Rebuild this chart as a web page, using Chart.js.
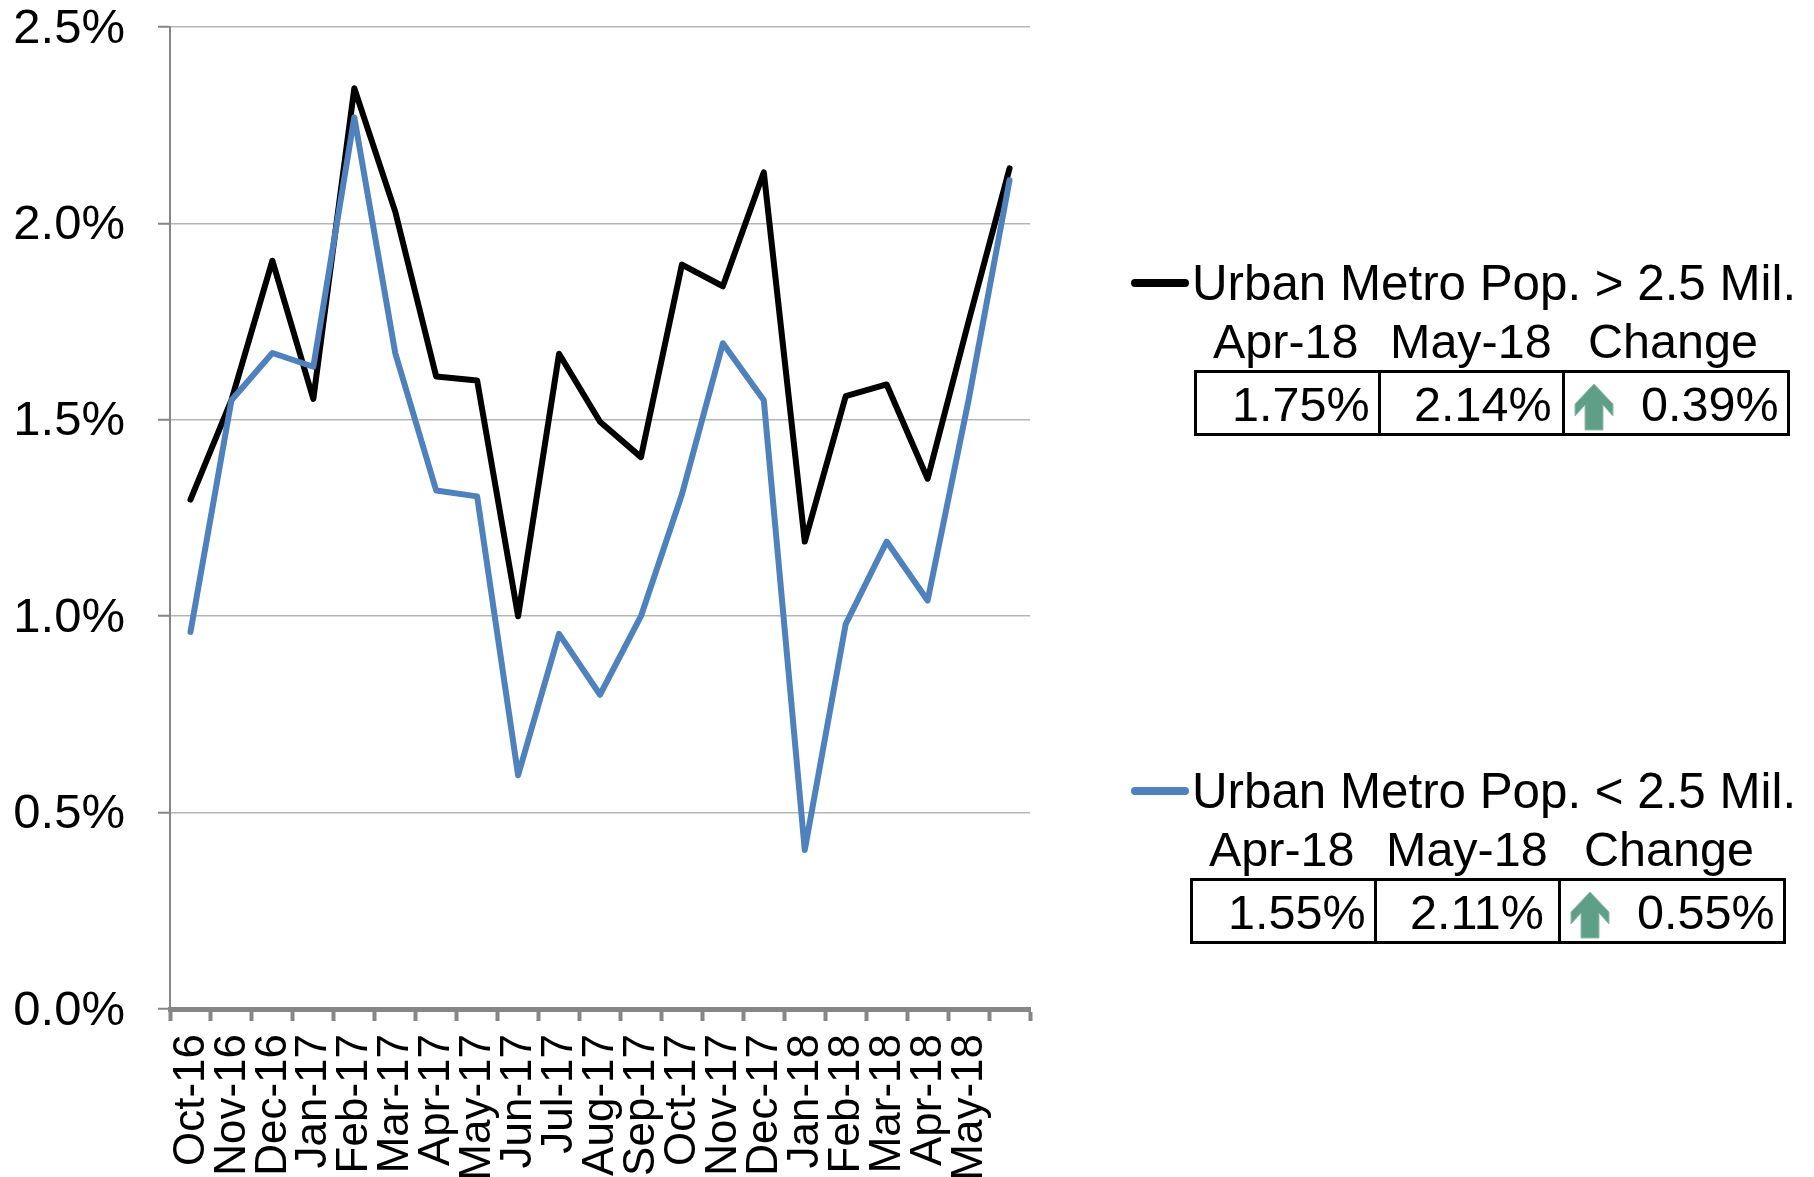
<!DOCTYPE html>
<html>
<head>
<meta charset="utf-8">
<title>Urban Metro Pop.</title>
<script src="https://cdn.jsdelivr.net/npm/chart.js@4/dist/chart.umd.js"></script>
<style>
    html, body { margin: 0; padding: 0; background: #fff; overflow: hidden; }
    #wrap { position: relative; width: 1814px; height: 1177px; font-family: "Liberation Sans", Arial, sans-serif; color: #000; }
    canvas { position: absolute; left: 0; top: 0; }
    .txt { position: absolute; font-size: 48.5px; line-height: 50px; height: 50px; white-space: nowrap; }
    .title { font-size: 49.3px; }
    .swatch { position: absolute; width: 58px; height: 8px; border-radius: 4px; }
    .box { position: absolute; width: 596px; height: 66px; box-sizing: border-box; border: 3px solid #000; }
    .sep { position: absolute; top: 0; width: 3px; height: 60px; background: #000; }
    .arrow { position: absolute; width: 40px; height: 48px; }
</style>
</head>
<body>
<div id="wrap">
    <canvas id="chart" width="1814" height="1177"></canvas>
</div>
<script>
// values
const categories = ['Oct-16', 'Nov-16', 'Dec-16', 'Jan-17', 'Feb-17', 'Mar-17', 'Apr-17', 'May-17', 'Jun-17', 'Jul-17',
    'Aug-17', 'Sep-17', 'Oct-17', 'Nov-17', 'Dec-17', 'Jan-18', 'Feb-18', 'Mar-18', 'Apr-18', 'May-18', ''];
const largeMetro = [1.297, 1.55, 1.905, 1.553, 2.344, 2.03, 1.61, 1.60, 1.0, 1.668,
    1.495, 1.405, 1.895, 1.84, 2.13, 1.19, 1.56, 1.59, 1.35, 1.75, 2.14];
const smallMetro = [0.96, 1.55, 1.67, 1.635, 2.27, 1.67, 1.32, 1.305, 0.595, 0.955,
    0.80, 1.00, 1.31, 1.695, 1.55, 0.405, 0.98, 1.19, 1.04, 1.55, 2.11];
const largeLabel = 'Urban Metro Pop. > 2.5 Mil.';
const smallLabel = 'Urban Metro Pop. < 2.5 Mil.';
const tableHeads = ['Apr-18', 'May-18', 'Change'];
const largeRow = ['1.75%', '2.14%', '0.39%'];
const smallRow = ['1.55%', '2.11%', '0.55%'];

const BLACK = '#000000';
const BLUE = '#4f81bd';
const FONT = '"Liberation Sans", Arial, sans-serif';

new Chart(document.getElementById('chart').getContext('2d'), {
    type: 'line',
    data: {
        labels: categories,
        datasets: [
            { label: largeLabel, data: largeMetro, borderColor: BLACK, borderWidth: 6, borderJoinStyle: 'round', borderCapStyle: 'round', pointRadius: 0, tension: 0, order: 2 },
            { label: smallLabel, data: smallMetro, borderColor: BLUE, borderWidth: 6, borderJoinStyle: 'round', borderCapStyle: 'round', pointRadius: 0, tension: 0, order: 1 }
        ]
    },
    options: {
        responsive: false,
        animation: false,
        layout: { padding: { left: 0, right: 784, top: 27, bottom: 0 } },
        plugins: { legend: { display: false }, tooltip: { enabled: false } },
        scales: {
            x: {
                offset: true,
                grid: { offset: true, drawOnChartArea: false, drawTicks: true, tickLength: 12, tickWidth: 4, tickColor: '#868686' },
                border: { color: '#868686', width: 5 },
                ticks: {
                    autoSkip: false, minRotation: 90, maxRotation: 90, padding: 13, labelOffset: 1,
                    color: '#000', font: { family: FONT, size: 44 }
                },
                afterFit: (scale) => { scale.height = 168; }
            },
            y: {
                min: 0,
                max: 2.5,
                grid: { color: '#b5b5b5', lineWidth: 1.5, tickLength: 12, tickColor: '#868686', tickWidth: 2 },
                border: { color: '#868686', width: 2 },
                ticks: {
                    stepSize: 0.5, padding: 33, labelOffset: 2, color: '#000', font: { family: FONT, size: 49 },
                    callback: (v) => v.toFixed(1) + '%'
                },
                // plot top sits at the top tick, the label half hangs above it
                afterFit: (scale) => { scale.width = 170; scale.paddingTop = 0; scale.paddingBottom = 0; }
            }
        }
    }
});

// legend + small table to the right of the plot
function addEl(parent, cls, left, top) {
    const el = document.createElement('div');
    el.className = cls;
    el.style.left = left + 'px';
    el.style.top = top + 'px';
    parent.appendChild(el);
    return el;
}

function addText(parent, text, left, top, extra) {
    const el = addEl(parent, extra ? 'txt ' + extra : 'txt', left, top);
    el.textContent = text;
    return el;
}

function buildPanel(label, color, row, dx, dy) {
    const wrap = document.getElementById('wrap');
    const sw = addEl(wrap, 'swatch', 1131, 279 + dy);
    sw.style.background = color;
    addText(wrap, label, 1192, 258 + dy, 'title');

    addText(wrap, tableHeads[0], 1213 + dx, 316 + dy);
    addText(wrap, tableHeads[1], 1390 + dx, 316 + dy);
    addText(wrap, tableHeads[2], 1588 + dx, 316 + dy);

    const box = addEl(wrap, 'box', 1194 + dx, 370 + dy);
    addEl(box, 'sep', 181, 0);
    addEl(box, 'sep', 365, 0);

    addText(wrap, row[0], 1232 + dx, 379 + dy);
    addText(wrap, row[1], 1414 + dx, 379 + dy);
    addText(wrap, row[2], 1641 + dx, 379 + dy);

    const arrow = addEl(wrap, 'arrow', 1574 + dx, 383 + dy);
    arrow.innerHTML = '<svg width="40" height="48" viewBox="0 0 40 48"><polygon points="20,1 39,21 39,33 29,22 29,47 11,47 11,22 1,33 1,21" fill="#5f9f88" stroke="#8fbcab" stroke-width="1"/></svg>';
}

buildPanel(largeLabel, BLACK, largeRow, 0, 0);
buildPanel(smallLabel, BLUE, smallRow, -4, 508);
</script>
</body>
</html>
